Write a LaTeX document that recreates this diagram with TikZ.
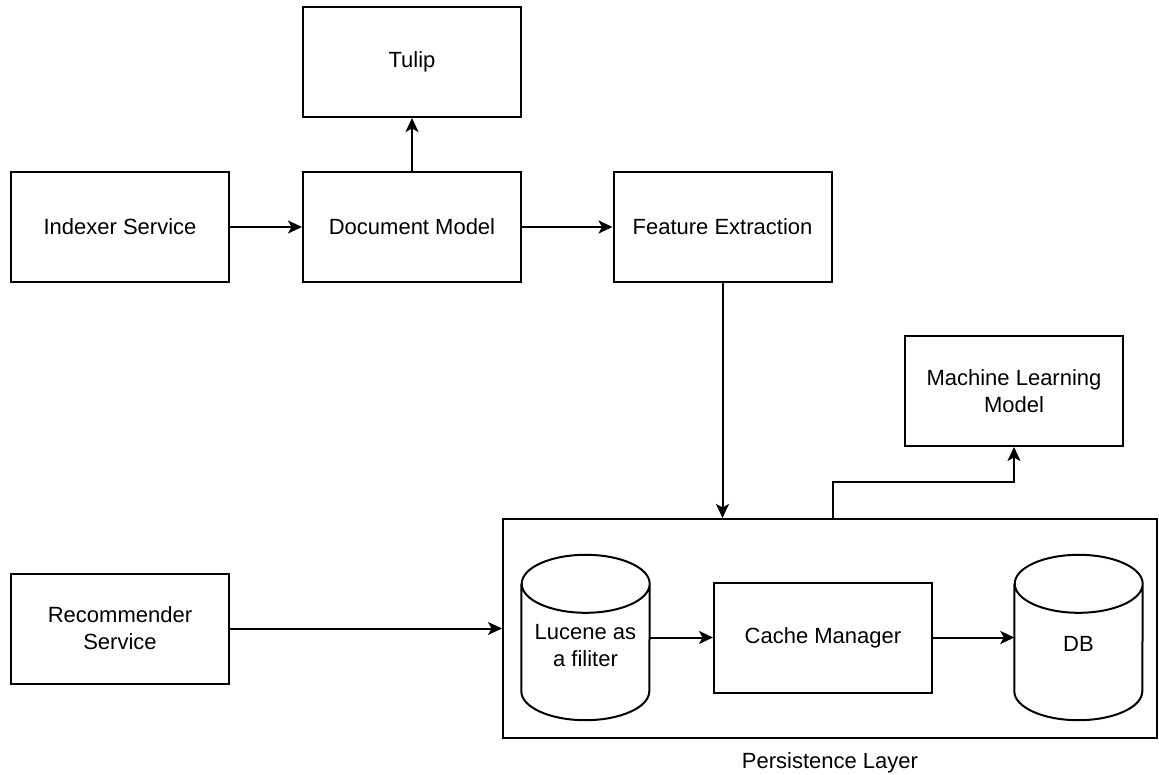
\documentclass[tikz,border=0pt]{standalone}
\usepackage{fontspec}
\setmainfont{Liberation Sans}
\usetikzlibrary{arrows.meta}

\tikzset{
  box/.style={draw, line width=2pt, minimum width=218pt, minimum height=110pt, align=center, inner sep=0pt},
  store/.style={minimum width=128pt, minimum height=165pt, inner sep=0pt},
  arr/.style={line width=2pt, -{Stealth[length=14pt,width=13pt,inset=3.5pt]}},
}

\begin{document}
\begin{tikzpicture}[x=1pt,y=-1pt,font=\fontsize{22}{27}\selectfont]
    \useasboundingbox (0,0) rectangle (1159,775);
    % service and model boxes
    \node[box] (tulip) at (412,62) {Tulip};
    \node[box] (indexer) at (120,227) {Indexer Service};
    \node[box] (docmodel) at (412,227) {Document Model};
    \node[box] (features) at (722.5,227) {Feature Extraction};
    \node[box] (mlmodel) at (1014,391) {Machine Learning\\Model};
    \node[box] (recommender) at (120,628.5) {Recommender\\Service};
    % persistence layer
    \node[box, minimum width=654pt, minimum height=219pt] (persist) at (830,628.5) {};
    \node (persistlabel) at (830,763) {Persistence Layer};
    \node[store, label={[yshift=-8pt,align=center]center:Lucene as\\a filiter}] (lucene) at (585.5,637.5) {};
    \node[box] (cache) at (823,637.5) {Cache Manager};
    \node[store, label={[yshift=-6pt]center:DB}] (db) at (1078.5,637.5) {};
    \foreach \c in {lucene,db}{
        \draw[line width=2pt] ([yshift=-29pt]\c.north west) -- ([yshift=29pt]\c.south west)
            arc[start angle=180,end angle=360,x radius=64pt,y radius=29pt]
            -- ([yshift=-29pt]\c.north east)
            arc[start angle=0,end angle=180,x radius=64pt,y radius=29pt]
            arc[start angle=180,end angle=360,x radius=64pt,y radius=29pt];
    }
    % connectors
    \draw[arr] (indexer) -- (docmodel);
    \draw[arr] (docmodel) -- (features);
    \draw[arr] (docmodel) -- (tulip);
    \draw[arr] (features) -- (features |- persist.north);
    \draw[arr] (persist.north -| features.east) -- ++(0,-36) -| (mlmodel.south);
    \draw[arr] (recommender) -- (persist.west |- recommender);
    \draw[arr] (lucene) -- (cache);
    \draw[arr] (cache) -- (db);
\end{tikzpicture}
\end{document}
